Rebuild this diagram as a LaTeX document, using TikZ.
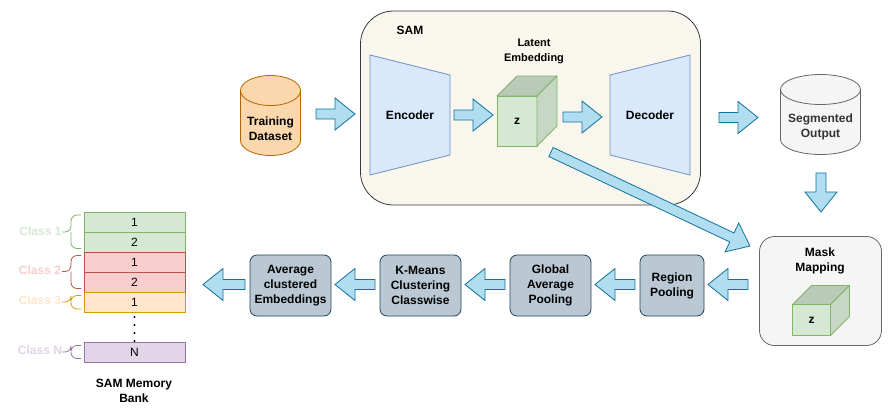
\documentclass[tikz,border=0pt]{standalone}
\usepackage{fontspec}
\setmainfont{Liberation Sans}
\usetikzlibrary{calc}
\definecolor{arrowfill}{HTML}{B1DDF0}
\definecolor{arrowline}{HTML}{10739E}
\definecolor{greenfill}{HTML}{D5E8D4}
\definecolor{greenline}{HTML}{82B366}
\definecolor{redfill}{HTML}{F8CECC}
\definecolor{redline}{HTML}{B85450}
\definecolor{orangefill}{HTML}{FFE6CC}
\definecolor{orangeline}{HTML}{D79B00}
\definecolor{purplefill}{HTML}{E1D5E7}
\definecolor{purpleline}{HTML}{9673A6}
\definecolor{bluefill}{HTML}{DAE8FC}
\definecolor{blueline}{HTML}{6C8EBF}
\definecolor{stepfill}{HTML}{BAC8D3}
\definecolor{stepline}{HTML}{23445D}
\definecolor{samfill}{HTML}{F9F7ED}
\definecolor{samline}{HTML}{36393D}
\definecolor{greyfill}{HTML}{F5F5F5}
\definecolor{greyline}{HTML}{666666}
\definecolor{cylfill}{HTML}{FAD7AC}
\definecolor{cylline}{HTML}{B46504}
\tikzset{
  lab/.style={font=\fontsize{12}{15}\selectfont\bfseries, align=center, inner sep=0pt, text=black},
  blockarrow/.style={draw=arrowline, fill=arrowfill, line width=.8pt, line join=miter},
  stepbox/.style={draw=stepline, fill=stepfill, rounded corners=7pt, line width=.8pt, minimum width=81pt, minimum height=61pt, align=center, inner sep=0pt, font=\fontsize{12}{15}\selectfont\bfseries, execute at begin node={\rule{0pt}{13.5pt}}},
  memcell/.style={draw=#1line, fill=#1fill, line width=.8pt, minimum width=101pt, minimum height=20pt, inner sep=0pt, font=\fontsize{12}{15}\selectfont},
  classlab/.style={font=\fontsize{12}{15}\selectfont\bfseries, inner sep=0pt, text=#1fill},
  bracket/.style={draw=#1line, line width=.8pt, rounded corners=6pt},
  cubeface/.style={draw=greenline, fill=greenfill, line width=.8pt, line join=round}
}
% block arrow between two named coordinates
\newcommand{\blockarr}[3][20pt]{%
  \coordinate (neck) at ($(#3)!#1!(#2)$);
  \draw[blockarrow] ($(#2)!5pt!90:(#3)$) -- ($(neck)!5pt!-90:(#2)$) -- ($(neck)!16pt!-90:(#2)$) -- (#3)
    -- ($(neck)!16pt!90:(#2)$) -- ($(neck)!5pt!90:(#2)$) -- ($(#2)!5pt!-90:(#3)$) -- cycle;
}
% cube: front-left x, top y, width, height, depth
\newcommand{\cubeat}[6]{%
  \draw[cubeface] (#1,#2) rectangle (#1+#3,#2+#4);
  \draw[cubeface, fill=greenfill!87!black] (#1,#2) -- (#1+#5,#2-#5) -- (#1+#3+#5,#2-#5) -- (#1+#3,#2) -- cycle;
  \draw[cubeface, fill=greenfill!93!black] (#1+#3,#2) -- (#1+#3+#5,#2-#5) -- (#1+#3+#5,#2+#4-#5) -- (#1+#3,#2+#4) -- cycle;
  \node[lab] (#6) at (#1+#3/2,#2+#4/2+.5) {z};
}
\newcommand{\cylat}[6]{%
  \path[draw=#6line, fill=#6fill, line width=.8pt] (#1,#2+15)
    arc[start angle=180, end angle=0, x radius=#3/2*1pt, y radius=15pt] -- ++(0,#4-30)
    arc[start angle=0, end angle=-180, x radius=#3/2*1pt, y radius=15pt] -- cycle;
  \draw[draw=#6line, line width=.8pt] (#1,#2+15) arc[start angle=180, end angle=360, x radius=#3/2*1pt, y radius=15pt];
}
\begin{document}
\begin{tikzpicture}[x=1pt,y=-1pt]
\useasboundingbox (0,0) rectangle (892,416);
\fill[white] (0,0) rectangle (892,416);

% SAM container
\draw[draw=samline, fill=samfill, line width=.8pt, rounded corners=33pt] (360.5,11) rectangle (700.5,205);
\node[lab] (samlab) at (410,30) {SAM};
\draw[draw=blueline, fill=bluefill, line width=.8pt] (370,55) -- (450,75) -- (450,155) -- (370,175) -- cycle;
\node[lab] (enc) at (410,115) {Encoder};
\draw[draw=blueline, fill=bluefill, line width=.8pt] (610,75) -- (690,55) -- (690,175) -- (610,155) -- cycle;
\node[lab] (dec) at (650,115) {Decoder};
\node[lab, font=\fontsize{11}{15}\selectfont\bfseries] (latent) at (534,51) {Latent\\Embedding};
\cubeat{497}{96}{40}{50}{20}{zone}

% Cylinders
\colorlet{trainfill}{cylfill}\colorlet{trainline}{cylline}
\cylat{240.5}{75.5}{60}{80}{15}{train}
\node[lab] (training) at (270.5,129) {Training\\Dataset};
\colorlet{outfill}{greyfill}\colorlet{outline}{greyline}
\cylat{780.5}{74.5}{80}{80}{15}{out}
\node[lab, text=black!80] (segout) at (820.5,127) {Segmented\\Output};

% Mask mapping
\draw[draw=greyline, fill=greyfill, line width=.8pt, rounded corners=15pt] (759.5,236.5) rectangle (881.5,345.5);
\node[lab] (maskmap) at (820,261) {Mask\\Mapping};
\cubeat{792.5}{304.5}{38}{31}{19}{ztwo}

% Process boxes
\node[stepbox, minimum width=64pt] (region) at (672,285.5) {Region\\Pooling};
\node[stepbox] (gap) at (550.5,285.5) {Global\\Average\\Pooling};
\node[stepbox] (kmeans) at (420.5,285.5) {K-Means\\Clustering\\Classwise};
\node[stepbox] (avg) at (290.5,285.5) {Average\\clustered\\Embeddings};

% Memory bank
\node[memcell=green] (ma) at (134.5,222) {1};
\node[memcell=green] (mb) at (134.5,242) {2};
\node[memcell=red] (mc) at (134.5,262) {1};
\node[memcell=red] (md) at (134.5,282) {2};
\node[memcell=orange] (me) at (134.5,302) {1};
\node[memcell=purple] (mn) at (134.5,352) {N};
\foreach \yy in {317,325,333,341} \fill[black] (134.5,\yy) circle (1.1pt);
\node[lab] (bank) at (134,390.5) {SAM Memory\\Bank};

% Class labels and brackets
\node[classlab=green] (c1) at (40.5,231) {Class 1};
\node[classlab=red] (c2) at (40,270) {Class 2};
\node[classlab=orange] (c3) at (40,300) {Class 3};
\node[classlab=purple] (cn) at (40,350) {Class N};
\draw[bracket=green] (81,215) -- (71,215) -- (71,232) -- (62,232) (71,232) -- (71,248.5) -- (81,248.5);
\draw[bracket=red] (81,255.5) -- (71,255.5) -- (71,271.5) -- (62,271.5) (71,271.5) -- (71,288.5) -- (81,288.5);
\draw[bracket=orange] (81,295.5) -- (71,295.5) -- (71,302) -- (62,302) (71,302) -- (71,309) -- (81,309);
\draw[bracket=purple] (81,345.5) -- (71,345.5) -- (71,352) -- (62,352) (71,352) -- (71,358.5) -- (81,358.5);

% Arrows
\coordinate (a1s) at (316,114); \coordinate (a1e) at (355,114);
\blockarr{a1s}{a1e}
\coordinate (a2s) at (454,115); \coordinate (a2e) at (493,115);
\blockarr{a2s}{a2e}
\coordinate (a3s) at (563,117); \coordinate (a3e) at (602,117);
\blockarr{a3s}{a3e}
\coordinate (a4s) at (719,117.5); \coordinate (a4e) at (758,117.5);
\blockarr{a4s}{a4e}
\coordinate (a5s) at (821,173); \coordinate (a5e) at (821,212);
\blockarr{a5s}{a5e}
\coordinate (a6s) at (551,152); \coordinate (a6e) at (750,246);
\blockarr{a6s}{a6e}
\coordinate (a7s) at (748,284.5); \coordinate (a7e) at (708,284.5);
\blockarr{a7s}{a7e}
\coordinate (a8s) at (635,284.5); \coordinate (a8e) at (595,284.5);
\blockarr{a8s}{a8e}
\coordinate (a9s) at (505,284.5); \coordinate (a9e) at (465,284.5);
\blockarr{a9s}{a9e}
\coordinate (a10s) at (375,284.5); \coordinate (a10e) at (335,284.5);
\blockarr{a10s}{a10e}
\coordinate (a11s) at (245,284.5); \coordinate (a11e) at (203,284.5);
\blockarr{a11s}{a11e}
\end{tikzpicture}
\end{document}
